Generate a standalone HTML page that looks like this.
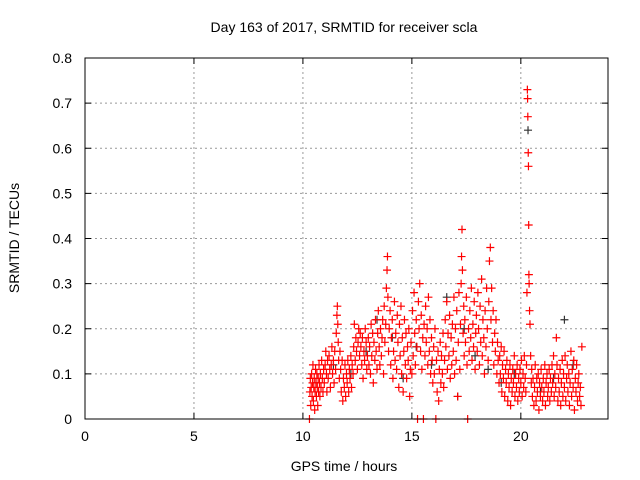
<!DOCTYPE html>
<html><head><meta charset="utf-8"><style>
body{margin:0;background:#fff}
svg{display:block;font-family:"Liberation Sans",sans-serif}
</style></head><body>
<svg id="chart" width="640" height="480" viewBox="0 0 640 480">
<rect width="640" height="480" fill="#fff"/>
<text x="344" y="32" font-size="14" text-anchor="middle">Day 163 of 2017, SRMTID for receiver scla</text>
<g id="grid"></g>
<g id="pts"></g>
<rect x="85" y="58" width="523" height="361" fill="none" stroke="#000" stroke-width="1"/>
<g id="ticks"></g>
<text x="344" y="471" font-size="14" text-anchor="middle">GPS time / hours</text>
<text x="19" y="238" font-size="14" text-anchor="middle" transform="rotate(-90 19 238)">SRMTID / TECUs</text>
</svg>
<script>
const xTicks=[0,5,10,15,20];
const yTicks=[0,0.1,0.2,0.3,0.4,0.5,0.6,0.7,0.8];
const yTickLabels=["0","0.1","0.2","0.3","0.4","0.5","0.6","0.7","0.8"];
const redPoints=[
[10.30,0.0],[10.32,0.06],[10.34,0.09],[10.36,0.03],[10.38,0.07],[10.40,0.1],[10.42,0.05],[10.44,0.08],[10.46,0.12],[10.48,0.04],[10.50,0.07],[10.52,0.09],[10.54,0.02],[10.56,0.06],[10.58,0.11],[10.60,0.08],[10.62,0.05],[10.64,0.1],[10.66,0.07],[10.68,0.03],[10.70,0.09],[10.72,0.06],[10.74,0.12],[10.76,0.08],[10.78,0.05],[10.80,0.1],[10.83,0.07],[10.86,0.13],[10.89,0.09],[10.92,0.06],[10.95,0.11],[10.98,0.08],
[11.02,0.12],[11.05,0.15],[11.08,0.1],[11.1,0.06],[11.13,0.13],[11.16,0.09],[11.2,0.14],[11.23,0.11],[11.26,0.07],[11.3,0.12],[11.33,0.16],[11.36,0.1],[11.4,0.13],[11.43,0.08],[11.46,0.15],[11.5,0.11],[11.53,0.19],[11.56,0.23],[11.58,0.25],[11.6,0.21],[11.62,0.17],[11.64,0.13],[11.67,0.09],[11.7,0.15],[11.73,0.11],[11.76,0.06],[11.8,0.13],[11.83,0.04],[11.86,0.09],[11.9,0.07],[11.93,0.12],[11.96,0.05],
[12.0,0.1],[12.03,0.08],[12.06,0.13],[12.1,0.06],[12.13,0.11],[12.16,0.09],[12.2,0.14],[12.23,0.07],[12.26,0.12],[12.3,0.1],[12.33,0.16],[12.36,0.21],[12.4,0.13],[12.43,0.18],[12.46,0.15],[12.5,0.11],[12.53,0.17],[12.56,0.2],[12.6,0.14],[12.63,0.19],[12.66,0.16],[12.7,0.12],[12.73,0.18],[12.76,0.09],[12.8,0.15],[12.83,0.13],[12.86,0.2],[12.9,0.17],[12.93,0.11],[12.96,0.14],
[13.0,0.18],[13.03,0.12],[13.06,0.16],[13.1,0.1],[13.13,0.21],[13.16,0.14],[13.2,0.19],[13.23,0.08],[13.26,0.17],[13.3,0.13],[13.33,0.22],[13.36,0.15],[13.4,0.11],[13.43,0.19],[13.46,0.24],[13.5,0.16],[13.53,0.12],[13.56,0.2],[13.6,0.14],[13.63,0.18],[13.66,0.22],[13.7,0.1],[13.73,0.25],[13.76,0.17],[13.8,0.21],[13.83,0.29],[13.86,0.33],[13.88,0.36],[13.9,0.27],[13.93,0.15],[13.96,0.2],
[14.0,0.24],[14.03,0.12],[14.06,0.18],[14.1,0.22],[14.13,0.09],[14.16,0.15],[14.2,0.26],[14.23,0.13],[14.26,0.19],[14.3,0.11],[14.33,0.23],[14.36,0.17],[14.4,0.07],[14.43,0.21],[14.46,0.14],[14.5,0.25],[14.53,0.1],[14.56,0.18],[14.6,0.06],[14.63,0.15],[14.66,0.22],[14.7,0.12],[14.73,0.19],[14.76,0.09],[14.8,0.16],[14.83,0.13],[14.86,0.2],[14.9,0.05],[14.93,0.11],[14.96,0.17],
[15.0,0.1],[15.03,0.24],[15.06,0.14],[15.1,0.28],[15.13,0.19],[15.16,0.12],[15.2,0.22],[15.23,0.16],[15.26,0.0],[15.3,0.26],[15.33,0.2],[15.36,0.3],[15.4,0.15],[15.43,0.23],[15.46,0.11],[15.5,0.18],[15.53,0.0],[15.56,0.21],[15.6,0.14],[15.63,0.25],[15.66,0.17],[15.7,0.2],[15.73,0.12],[15.76,0.27],[15.8,0.15],[15.83,0.22],[15.86,0.1],[15.9,0.18],[15.93,0.13],[15.96,0.08],
[16.0,0.16],[16.03,0.1],[16.06,0.2],[16.1,0.0],[16.13,0.13],[16.16,0.06],[16.2,0.15],[16.23,0.04],[16.26,0.11],[16.3,0.17],[16.33,0.08],[16.36,0.14],[16.4,0.1],[16.43,0.19],[16.46,0.07],[16.5,0.13],[16.53,0.22],[16.56,0.16],[16.6,0.26],[16.63,0.11],[16.66,0.19],[16.7,0.14],[16.73,0.23],[16.76,0.09],[16.8,0.18],[16.83,0.12],[16.86,0.21],[16.9,0.15],[16.93,0.27],[16.96,0.1],
[17.0,0.2],[17.03,0.13],[17.06,0.24],[17.1,0.05],[17.13,0.17],[17.16,0.28],[17.2,0.11],[17.23,0.21],[17.26,0.3],[17.28,0.36],[17.3,0.42],[17.32,0.33],[17.35,0.19],[17.38,0.25],[17.4,0.14],[17.43,0.22],[17.46,0.17],[17.5,0.27],[17.53,0.12],[17.56,0.0],[17.6,0.2],[17.63,0.15],[17.66,0.24],[17.7,0.18],[17.73,0.29],[17.76,0.13],[17.8,0.21],[17.83,0.16],[17.86,0.26],[17.9,0.11],[17.93,0.19],[17.96,0.23],
[18.0,0.15],[18.03,0.28],[18.06,0.2],[18.1,0.12],[18.13,0.25],[18.16,0.17],[18.2,0.31],[18.23,0.14],[18.26,0.22],[18.3,0.18],[18.33,0.1],[18.36,0.24],[18.4,0.16],[18.43,0.29],[18.46,0.2],[18.5,0.13],[18.53,0.26],[18.56,0.35],[18.6,0.38],[18.63,0.22],[18.66,0.29],[18.7,0.17],[18.73,0.24],[18.76,0.12],[18.8,0.19],[18.83,0.15],[18.86,0.22],[18.9,0.1],[18.93,0.17],[18.96,0.13],
[19.0,0.08],[19.03,0.14],[19.06,0.1],[19.1,0.16],[19.13,0.06],[19.16,0.12],[19.2,0.09],[19.23,0.15],[19.26,0.05],[19.3,0.11],[19.33,0.08],[19.36,0.13],[19.4,0.04],[19.43,0.1],[19.46,0.07],[19.5,0.12],[19.53,0.03],[19.56,0.09],[19.6,0.06],[19.63,0.11],[19.66,0.08],[19.7,0.14],[19.73,0.05],[19.76,0.1],[19.8,0.07],[19.83,0.12],[19.86,0.04],[19.9,0.09],[19.93,0.06],[19.96,0.11],
[20.0,0.08],[20.03,0.13],[20.06,0.05],[20.1,0.1],[20.13,0.07],[20.16,0.14],[20.2,0.09],[20.23,0.06],[20.26,0.12],[20.28,0.28],[20.3,0.73],[20.31,0.71],[20.32,0.67],[20.34,0.59],[20.35,0.56],[20.36,0.43],[20.37,0.32],[20.38,0.3],[20.4,0.24],[20.42,0.21],[20.45,0.14],[20.48,0.08],[20.5,0.11],[20.53,0.05],[20.56,0.09],[20.6,0.03],[20.63,0.07],[20.66,0.12],[20.7,0.04],[20.73,0.09],[20.76,0.06],[20.8,0.1],[20.83,0.02],[20.86,0.08],[20.9,0.05],[20.93,0.11],[20.96,0.07],
[21.0,0.04],[21.03,0.09],[21.06,0.06],[21.1,0.12],[21.13,0.03],[21.16,0.08],[21.2,0.1],[21.23,0.05],[21.26,0.07],[21.3,0.11],[21.33,0.04],[21.36,0.09],[21.4,0.06],[21.43,0.12],[21.46,0.08],[21.5,0.14],[21.53,0.05],[21.56,0.1],[21.6,0.07],[21.63,0.18],[21.66,0.12],[21.7,0.04],[21.73,0.09],[21.76,0.06],[21.8,0.11],[21.83,0.03],[21.86,0.08],[21.9,0.13],[21.93,0.05],[21.96,0.1],
[22.0,0.07],[22.03,0.14],[22.06,0.04],[22.1,0.09],[22.13,0.12],[22.16,0.06],[22.2,0.1],[22.23,0.03],[22.26,0.08],[22.3,0.15],[22.33,0.05],[22.36,0.11],[22.4,0.07],[22.43,0.13],[22.46,0.02],[22.5,0.09],[22.53,0.06],[22.56,0.12],[22.6,0.04],[22.63,0.08],[22.66,0.1],[22.7,0.05],[22.73,0.07],[22.76,0.03],[22.8,0.16]
];
const grayPoints=[[10.6,0.08],[11.4,0.12],[12.2,0.1],[12.9,0.15],[13.4,0.22],[14.1,0.18],[14.6,0.09],[15.2,0.16],[15.9,0.12],[16.6,0.27],[17.1,0.05],[17.4,0.2],[17.9,0.14],[18.5,0.11],[19.1,0.08],[19.7,0.1],[20.33,0.64],[20.9,0.06],[21.5,0.09],[22.0,0.22],[22.4,0.12]];
const X0=85,X1=608,Y0=419,Y1=58,XMAX=24,YMAX=0.8;
const xs=v=>X0+(X1-X0)*v/XMAX, ys=v=>Y0-(Y0-Y1)*v/YMAX;
const NS="http://www.w3.org/2000/svg";
function mk(tag,attrs,parent){const e=document.createElementNS(NS,tag);for(const k in attrs)e.setAttribute(k,attrs[k]);parent.appendChild(e);return e;}
const grid=document.getElementById('grid'),ticks=document.getElementById('ticks'),pts=document.getElementById('pts');
xTicks.forEach(t=>{const x=xs(t);
 if(t>0){const g=mk('line',{x1:x,y1:Y0,x2:x,y2:Y1,stroke:'#999','stroke-dasharray':'2,3'},grid);
 
 }
 mk('line',{x1:x,y1:Y0,x2:x,y2:Y0-6,stroke:'#000'},ticks);mk('line',{x1:x,y1:Y1,x2:x,y2:Y1+6,stroke:'#000'},ticks);
 const l=mk('text',{x:x,y:Y0+22,'font-size':14,'text-anchor':'middle'},ticks);l.textContent=t;
 
 });
yTicks.forEach((t,i)=>{const y=ys(t);
 if(t>0&&t<YMAX){const g=mk('line',{x1:X0,y1:y,x2:X1,y2:y,stroke:'#999','stroke-dasharray':'2,3'},grid);
 
 }
 mk('line',{x1:X0,y1:y,x2:X0+6,y2:y,stroke:'#000'},ticks);mk('line',{x1:X1,y1:y,x2:X1-6,y2:y,stroke:'#000'},ticks);
 const l=mk('text',{x:X0-13,y:y+5,'font-size':14,'text-anchor':'end'},ticks);l.textContent=yTickLabels[i];
 
 });
function plus(t,v,c){const x=xs(t),y=ys(v);
 const p=mk('path',{d:`M${x-4},${y}H${x+4}M${x},${y-4}V${y+4}`,stroke:c,'stroke-width':1.2,fill:'none'},pts);
 
 }
grayPoints.forEach(p=>plus(p[0],p[1],'#333'));
redPoints.forEach(p=>plus(p[0],p[1],'#f00'));
</script>
</body></html>
